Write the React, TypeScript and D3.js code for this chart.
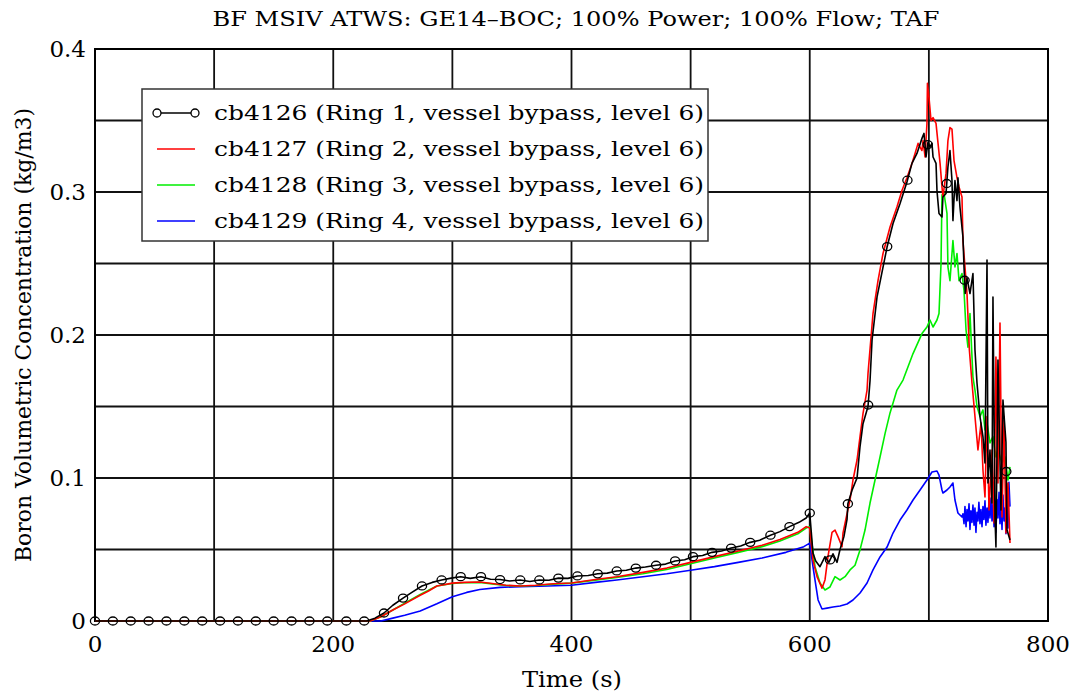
import React from "react";
import * as d3 from "d3";

const title = "BF MSIV ATWS: GE14\u2013BOC; 100% Power; 100% Flow; TAF";
const xLabel = "Time (s)";
const yLabel = "Boron Volumetric Concentration (kg/m3)";
const xTicks = [0, 200, 400, 600, 800];
const yTicks = [0, 0.1, 0.2, 0.3, 0.4];
const xGrid = [100, 200, 300, 400, 500, 600, 700];
const yGrid = [0.05, 0.1, 0.15, 0.2, 0.25, 0.3, 0.35];
const seriesNames = [
  "cb4126 (Ring 1, vessel bypass, level 6)",
  "cb4127 (Ring 2, vessel bypass, level 6)",
  "cb4128 (Ring 3, vessel bypass, level 6)",
  "cb4129 (Ring 4, vessel bypass, level 6)",
];
const seriesColors = ["#000000", "#ff0000", "#00ee00", "#0000ff"];

type P = [number, number];

const cb4126: P[] = [
  [0, 0], [228, 0], [235, 0.002], [242.6, 0.0056], [250, 0.011], [258.6, 0.016], [266, 0.02],
  [274.5, 0.0245], [283, 0.027], [291, 0.0287], [299, 0.03], [307, 0.031], [315, 0.0298],
  [324, 0.031], [332, 0.0292], [340, 0.029], [348, 0.028], [357, 0.0287], [365, 0.0276],
  [373, 0.0287], [381, 0.0285], [389, 0.03], [397, 0.0298], [405, 0.0315], [414, 0.0318],
  [422, 0.033], [430, 0.0335], [438, 0.035], [446, 0.0355], [454, 0.037], [462, 0.0378],
  [471, 0.039], [479, 0.0398], [487, 0.042], [495, 0.0428], [502, 0.045], [510, 0.0458],
  [518, 0.048], [526, 0.049], [534, 0.051], [542, 0.0525], [550, 0.055], [558, 0.0565],
  [567, 0.06], [575, 0.0625], [583, 0.066], [591, 0.069], [597, 0.072], [600, 0.0755],
  [602.7, 0.0475], [605, 0.042], [608.6, 0.038], [612.8, 0.045], [616, 0.041], [619.5, 0.047],
  [622.9, 0.041], [625.4, 0.05], [628.7, 0.059], [631.3, 0.071], [632, 0.082], [635.5, 0.0915],
  [639.7, 0.1], [642.2, 0.122], [644.7, 0.138], [648.9, 0.15], [650.6, 0.168], [652.3, 0.1965],
  [656.5, 0.2266], [664.9, 0.2615], [669.9, 0.278], [675.8, 0.292], [681.6, 0.307],
  [685.8, 0.32], [690, 0.327], [694.2, 0.3375], [695.9, 0.341], [697.6, 0.3245], [699.3, 0.335],
  [700.9, 0.3315], [702.6, 0.334], [703.5, 0.3245], [706, 0.32], [706.8, 0.301], [708.5, 0.285],
  [711, 0.2825], [711.8, 0.2965], [714.4, 0.299], [716, 0.3175], [717.7, 0.329], [719.4, 0.308],
  [720.2, 0.28], [721.9, 0.308], [723.6, 0.294], [724.4, 0.31], [726.1, 0.2895], [728.6, 0.2685],
  [729.5, 0.2476], [730.5, 0.229], [732, 0.24], [734.5, 0.229], [737, 0.243], [738.7, 0.1895],
  [740.4, 0.1664], [742.9, 0.143], [745.4, 0.129], [747.1, 0.1105], [748.8, 0.2524],
  [749.6, 0.0965], [751.3, 0.1196], [753, 0.0825], [753.8, 0.2266], [755.5, 0.0727],
  [756.3, 0.0517], [758, 0.1825], [760.5, 0.0776], [762.2, 0.1545], [764.7, 0.125],
  [765.6, 0.0636], [768.1, 0.0566],
];

const cb4127: P[] = [
  [0, 0], [231, 0], [240, 0.003], [250, 0.0077], [260, 0.012], [273, 0.018], [280, 0.021],
  [287, 0.0245], [300, 0.0265], [310, 0.027], [323, 0.0273], [335, 0.026], [345, 0.025],
  [357, 0.0245], [370, 0.025], [385, 0.026], [400, 0.0266], [420, 0.029], [438, 0.031],
  [460, 0.034], [480, 0.037], [500, 0.041], [520, 0.045], [540, 0.049], [560, 0.053],
  [575, 0.057], [590, 0.062], [597, 0.066], [600, 0.065], [602.7, 0.0427], [606.1, 0.031],
  [610.3, 0.023], [612.8, 0.0287], [615.3, 0.045], [618.7, 0.062], [621.2, 0.0636],
  [623.7, 0.059], [627.1, 0.052], [627.9, 0.0615], [631.3, 0.075], [633.8, 0.0846],
  [636.3, 0.0986], [639.7, 0.1126], [642.2, 0.129], [644.7, 0.145], [648.1, 0.1615],
  [648.9, 0.173], [653.1, 0.215], [657.3, 0.238], [661.5, 0.257], [667.4, 0.2755],
  [673.2, 0.2895], [677.4, 0.301], [681.6, 0.31], [685.8, 0.32], [688.4, 0.327],
  [690.9, 0.334], [694.2, 0.329], [695.1, 0.336], [696.8, 0.3245], [698.4, 0.348],
  [698.8, 0.376], [700.1, 0.366], [701.8, 0.35], [703.5, 0.352], [706, 0.348], [707.7, 0.334],
  [709.4, 0.32], [711, 0.3035], [711.8, 0.2965], [714.4, 0.313], [716, 0.336], [717.7, 0.345],
  [719.4, 0.344], [721.1, 0.322], [723.6, 0.31], [725.3, 0.3035], [727.8, 0.2965],
  [728.6, 0.266], [730.3, 0.2476], [732, 0.229], [734, 0.1895], [736.2, 0.1664],
  [738.7, 0.143], [741.2, 0.1196], [743.8, 0.1385], [745.4, 0.1056], [747.1, 0.0867],
  [748.8, 0.143], [750.5, 0.0776], [753, 0.1196], [754.7, 0.0685], [756.3, 0.1846],
  [758, 0.0965], [759.7, 0.2084], [761.4, 0.0727], [763.1, 0.143], [764.7, 0.0615],
  [766.4, 0.0965], [768.1, 0.0545],
];

const cb4128: P[] = [
  [0, 0], [231, 0], [240, 0.003], [250, 0.0077], [260, 0.0125], [273, 0.0185], [287, 0.0245],
  [300, 0.0262], [310, 0.0268], [323, 0.027], [335, 0.0258], [345, 0.0248], [357, 0.0245],
  [370, 0.0248], [385, 0.0258], [400, 0.0265], [420, 0.0285], [438, 0.0305], [460, 0.033],
  [480, 0.036], [500, 0.04], [520, 0.044], [540, 0.048], [560, 0.052], [575, 0.056],
  [590, 0.061], [597, 0.065], [600, 0.066], [604.4, 0.038], [608.6, 0.0266], [612.8, 0.0217],
  [617, 0.0238], [621.2, 0.031], [625.4, 0.0287], [629.6, 0.031], [633.8, 0.0357],
  [638, 0.039], [642.2, 0.0497], [646.4, 0.0636], [650.6, 0.0825], [654.8, 0.0986],
  [659, 0.1147], [663.2, 0.131], [667.4, 0.1455], [673.2, 0.1615], [678.3, 0.1685],
  [686.7, 0.187], [694.2, 0.201], [698.4, 0.2056], [700.9, 0.2105], [703.5, 0.2056],
  [706.8, 0.2105], [708.5, 0.215], [710.2, 0.25], [711, 0.298], [712.7, 0.299], [715.2, 0.285],
  [716, 0.2476], [717.7, 0.238], [720.2, 0.266], [721.9, 0.2476], [723.6, 0.257],
  [725.3, 0.238], [727.8, 0.243], [729.5, 0.231], [731.2, 0.2035], [732.8, 0.1915],
  [734.5, 0.215], [737, 0.1706], [738.7, 0.1615], [740.4, 0.15], [742.9, 0.143],
  [745.4, 0.1476], [747.1, 0.1336], [748.8, 0.1385], [751.3, 0.1245], [753.8, 0.129],
  [756.3, 0.1147], [758, 0.1196], [761.4, 0.1105], [763.9, 0.1147], [766.4, 0.0986],
  [768.1, 0.1077],
];

const cb4129: P[] = [
  [0, 0], [240, 0], [250, 0.002], [260, 0.004], [273, 0.007], [287, 0.012], [300, 0.017],
  [312, 0.02], [323, 0.022], [340, 0.0235], [357, 0.024], [380, 0.0245], [400, 0.025],
  [420, 0.027], [438, 0.0287], [460, 0.031], [480, 0.033], [500, 0.0355], [520, 0.038],
  [540, 0.041], [560, 0.044], [580, 0.048], [595, 0.052], [600, 0.0545], [602.7, 0.038],
  [605.3, 0.0238], [607, 0.0147], [610.3, 0.0084], [614.5, 0.009], [619.5, 0.0098],
  [625.4, 0.0105], [631.3, 0.0119], [636.3, 0.0147], [642.2, 0.0196], [648.1, 0.0266],
  [653.1, 0.0357], [659, 0.0448], [664.9, 0.0517], [669.9, 0.0615], [675.8, 0.0706],
  [681.6, 0.0776], [686.7, 0.0846], [692.6, 0.0916], [698.4, 0.0986], [702.6, 0.1042],
  [706.8, 0.1049], [708.5, 0.102], [711, 0.0916], [711.8, 0.0895], [715.2, 0.0916],
  [717.7, 0.0937], [720.2, 0.0965], [721.9, 0.0846], [724.4, 0.0755], [727.8, 0.0727],
  [728.6, 0.075], [729.5, 0.068], [730.3, 0.08], [731.2, 0.066], [732, 0.078], [732.8, 0.07],
  [733.7, 0.082], [734.5, 0.064], [735.3, 0.077], [736.2, 0.069], [737, 0.081], [737.9, 0.067],
  [738.7, 0.079], [739.5, 0.062], [740.4, 0.076], [741.2, 0.07], [742, 0.083], [742.9, 0.068],
  [743.7, 0.078], [744.6, 0.066], [745.4, 0.08], [746.2, 0.071], [747.1, 0.084], [747.9, 0.067],
  [748.8, 0.079], [749.6, 0.069], [750.5, 0.085], [751.3, 0.072], [752.1, 0.086], [753, 0.07],
  [753.8, 0.082], [754.7, 0.066], [755.5, 0.08], [756.3, 0.062], [757.2, 0.085], [758, 0.072],
  [758.9, 0.09], [759.7, 0.068], [760.5, 0.083], [761.4, 0.064], [762.2, 0.088], [763.1, 0.07],
  [763.9, 0.079], [764.7, 0.061], [765.6, 0.09], [766.4, 0.065], [767.2, 0.097], [768.1, 0.08],
];

const markerTimes = [
  0, 15, 30, 45, 60, 75, 90, 105, 120, 135, 150, 165, 180, 195, 211, 226,
  242.6, 258.6, 274.5, 291, 307, 324, 340, 357, 373, 389, 405, 422, 438, 454, 471, 487,
  502, 518, 534, 550, 567, 583, 600, 617, 632, 649, 665, 682, 699, 715, 730, 765,
];

const allSeries = [cb4126, cb4127, cb4128, cb4129];

const W = 1078;
const H = 694;
const M = { left: 95, right: 1048, top: 49, bottom: 621 };
const FONT = "'DejaVu Serif', serif";

export default function App() {
  const x = d3.scaleLinear().domain([0, 800]).range([M.left, M.right]);
  const y = d3.scaleLinear().domain([0, 0.4]).range([M.bottom, M.top]);
  const line = d3
    .line<P>()
    .x((d) => x(d[0]))
    .y((d) => y(d[1]));

  const bis = d3.bisector((d: P) => d[0]).left;
  const valueAt = (t: number) => {
    const i = bis(cb4126, t);
    if (i <= 0) return cb4126[0][1];
    if (i >= cb4126.length) return cb4126[cb4126.length - 1][1];
    const a = cb4126[i - 1];
    const b = cb4126[i];
    const f = (t - a[0]) / (b[0] - a[0] || 1);
    return a[1] + f * (b[1] - a[1]);
  };

  const legendX = 142;
  const legendY = 89;
  const legendW = 566;
  const legendH = 152;
  const rowYs = [113, 149, 185, 221];

  return (
    <svg
      width={W}
      height={H}
      style={{ position: "absolute", left: 0, top: 0, background: "#fff" }}
      fontFamily={FONT}
    >
      <defs>
        <clipPath id="clip">
          <rect x={M.left - 6} y={M.top} width={M.right - M.left + 6} height={M.bottom - M.top + 6} />
        </clipPath>
      </defs>
      <rect x={0} y={0} width={W} height={H} fill="#fff" />
      {xGrid.map((g) => (
        <line key={"xg" + g} x1={x(g)} x2={x(g)} y1={M.top} y2={M.bottom} stroke="#111" strokeWidth={1.8} />
      ))}
      {yGrid.map((g) => (
        <line key={"yg" + g} x1={M.left} x2={M.right} y1={y(g)} y2={y(g)} stroke="#111" strokeWidth={1.8} />
      ))}
      <rect
        x={M.left}
        y={M.top}
        width={M.right - M.left}
        height={M.bottom - M.top}
        fill="none"
        stroke="#000"
        strokeWidth={2}
      />
      <g clipPath="url(#clip)">
        {[3, 2, 1, 0].map((i) => (
          <path
            key={i}
            d={line(allSeries[i]) || ""}
            fill="none"
            stroke={seriesColors[i]}
            strokeWidth={1.6}
            strokeLinejoin="round"
          />
        ))}
        {markerTimes.map((t, k) => (
          <ellipse key={k} cx={x(t)} cy={y(valueAt(t))} rx={4.6} ry={4} fill="none" stroke="#000" strokeWidth={1.3} />
        ))}
      </g>
      <rect x={legendX} y={legendY} width={legendW} height={legendH} fill="#fff" stroke="#333" strokeWidth={1.5} />
      {seriesNames.map((n, i) => (
        <g key={n}>
          <line x1={157} x2={195} y1={rowYs[i]} y2={rowYs[i]} stroke={seriesColors[i]} strokeWidth={1.5} />
          {i === 0 && (
            <>
              <circle cx={157} cy={rowYs[i]} r={4} fill="#fff" stroke="#000" strokeWidth={1.3} />
              <circle cx={195} cy={rowYs[i]} r={4} fill="#fff" stroke="#000" strokeWidth={1.3} />
            </>
          )}
          <text x={214} y={rowYs[i] + 7} fontSize={21} textLength={490} lengthAdjust="spacingAndGlyphs">
            {n}
          </text>
        </g>
      ))}
      {xTicks.map((t) => (
        <text key={"xt" + t} x={x(t)} y={652} fontSize={23} textAnchor="middle">
          {t}
        </text>
      ))}
      {yTicks.map((t) => (
        <text key={"yt" + t} x={86} y={y(t) + 8} fontSize={23} textAnchor="end">
          {t === 0 ? "0" : t.toFixed(1)}
        </text>
      ))}
      <text x={576} y={26} fontSize={20} textAnchor="middle" textLength={727} lengthAdjust="spacingAndGlyphs">
        {title}
      </text>
      <text x={572} y={687} fontSize={22} textAnchor="middle" textLength={100} lengthAdjust="spacingAndGlyphs">
        {xLabel}
      </text>
      <text
        transform={`translate(31, 335) rotate(-90)`}
        fontSize={23}
        textAnchor="middle"
        textLength={454}
        lengthAdjust="spacingAndGlyphs"
      >
        {yLabel}
      </text>
    </svg>
  );
}
